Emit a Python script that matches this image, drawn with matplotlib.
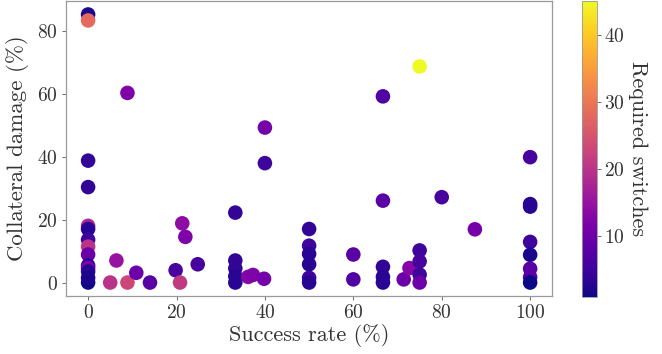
import numpy as np
import matplotlib
matplotlib.use("Agg")
import matplotlib.pyplot as plt

# %% Data
success_rate = [0, 0, 8.9, 0, 0, 0, 0, 0, 0, 0, 0, 0, 0, 0, 0,
                6.4, 5.0, 8.9, 10.9, 14.0, 19.8, 21.3, 22.0, 20.8, 24.8,
                33.3, 33.3, 33.3, 33.3, 33.3, 36.2, 37.3, 39.8, 40.0, 40.0,
                50, 50, 50, 50, 50, 50, 60, 60,
                66.7, 66.7, 66.7, 66.7, 66.7, 71.4, 72.7,
                75, 75, 75, 75, 75, 80, 87.5,
                100, 100, 100, 100, 100, 100, 100, 100]
collateral = [85.1, 83.2, 60.2, 38.7, 30.3, 18.0, 17.0, 13.6, 11.4, 8.9, 5.4, 4.6, 3.5, 0.0, 1.5,
              7.0, 0.0, 0.0, 3.1, 0.0, 3.9, 18.8, 14.5, 0.0, 5.8,
              22.2, 7.0, 4.5, 2.0, 0.0, 1.8, 2.4, 1.2, 49.2, 37.9,
              17.0, 11.7, 9.1, 5.8, 1.5, 0.0, 8.9, 1.0,
              59.1, 26.0, 5.0, 1.8, 0.0, 1.0, 4.6,
              68.6, 10.2, 6.7, 2.5, 0.0, 27.1, 16.9,
              39.8, 24.9, 24.1, 12.9, 8.8, 4.4, 1.7, 0.0]
switches = [2, 28, 12, 4, 4, 18, 3, 5, 20, 10, 3, 12, 3, 1, 2,
            15, 20, 23, 10, 8, 6, 14, 12, 21, 6,
            4, 4, 4, 3, 3, 13, 12, 11, 11, 5,
            4, 5, 3, 3, 5, 3, 8, 7,
            7, 8, 4, 3, 3, 10, 13,
            45, 5, 6, 5, 10, 6, 11,
            6, 3, 3, 5, 2, 8, 8, 1]

# %% Style
plt.rcParams['font.family'] = 'cmr10'
plt.rcParams['mathtext.fontset'] = 'cm'
plt.rcParams['axes.formatter.use_mathtext'] = True
plt.rcParams['axes.unicode_minus'] = False
txt = '#333333'

fig = plt.figure(figsize=(6.62, 3.54), dpi=100)
ax = fig.add_axes([0.0997, 0.164, 0.7345, 0.833])
cax = fig.add_axes([0.879, 0.161, 0.0235, 0.836])

sc = ax.scatter(success_rate, collateral, c=switches, cmap='plasma',
                s=110, vmin=1, vmax=45, edgecolors='none')

ax.set_xlabel('Success rate (%)', fontsize=16, labelpad=1, color=txt)
ax.set_ylabel('Collateral damage (%)', fontsize=16.5, labelpad=6, color=txt)
ax.tick_params(labelsize=14, length=3, width=0.6, color='#555555', pad=3,
               labelcolor=txt)
ax.set_xticks([0, 20, 40, 60, 80, 100])
ax.set_yticks([0, 20, 40, 60, 80])
for s in ax.spines.values():
    s.set_color('#999999')
    s.set_linewidth(0.9)

cb = fig.colorbar(sc, cax=cax)
cb.set_ticks([10, 20, 30, 40])
cb.ax.tick_params(labelsize=14, length=3, width=0.6, color='#555555', pad=2,
                  labelcolor=txt)
cb.outline.set_edgecolor('#999999')
cb.outline.set_linewidth(0.6)
cb.set_label('Required switches', fontsize=16, rotation=270, labelpad=16,
             color=txt)

fig.savefig('out.png', dpi=100)
